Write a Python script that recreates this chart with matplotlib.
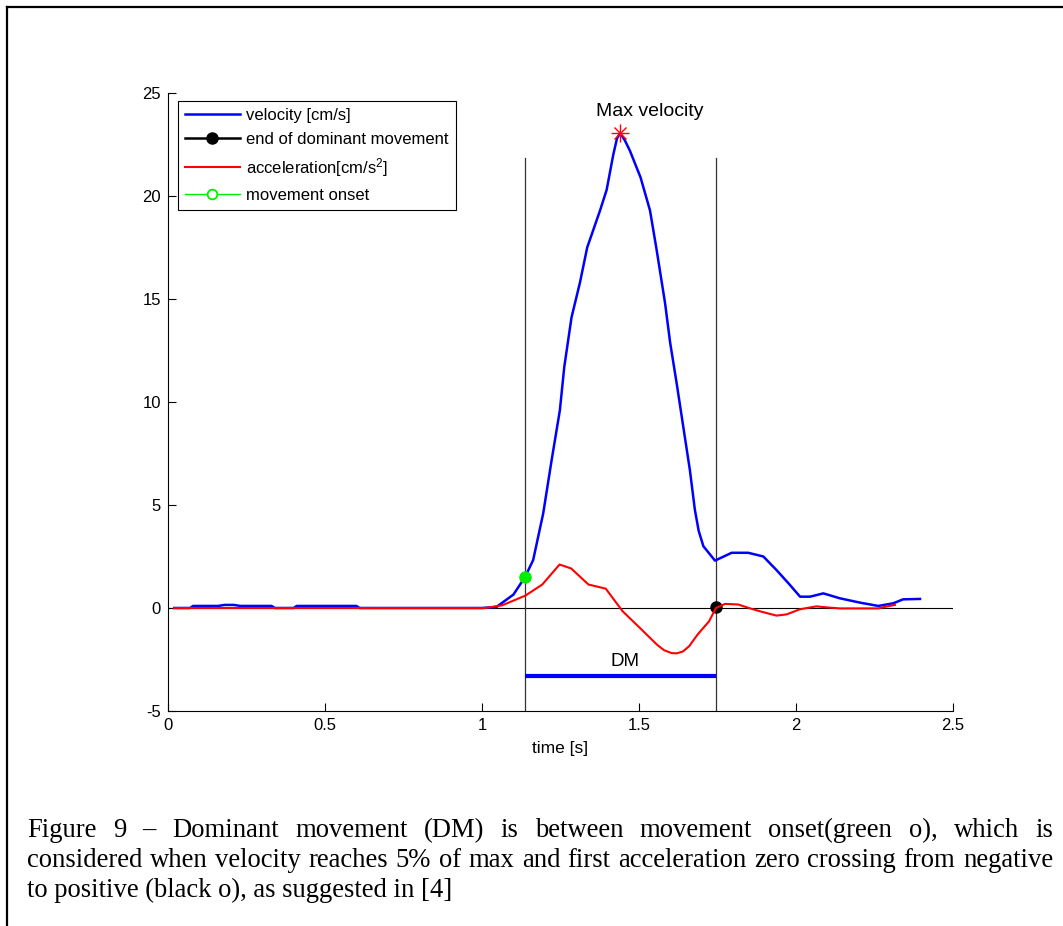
import numpy as np
import matplotlib
matplotlib.use("Agg")
import matplotlib.pyplot as plt
from matplotlib.lines import Line2D

plt.rcParams['font.family'] = ['Liberation Sans', 'DejaVu Sans']
plt.rcParams['mathtext.fontset'] = 'custom'
plt.rcParams['mathtext.rm'] = 'Liberation Sans'
plt.rcParams['mathtext.it'] = 'Liberation Sans:italic'
plt.rcParams['axes.unicode_minus'] = False

# ---------------- DATA ----------------
# velocity [cm/s]
t_vel = [0.02, 0.07, 0.08, 0.16, 0.18, 0.21, 0.23, 0.33, 0.34, 0.40,
         0.41, 0.60, 0.61, 1.00, 1.046, 1.10, 1.137, 1.163, 1.195, 1.222,
         1.248, 1.262, 1.285, 1.312, 1.335, 1.376, 1.397, 1.418, 1.43, 1.44,
         1.455, 1.471, 1.505, 1.535, 1.556, 1.583, 1.599, 1.62, 1.641, 1.662,
         1.678, 1.69, 1.705, 1.742, 1.795, 1.848, 1.896, 1.938, 1.976, 2.013,
         2.045, 2.087, 2.14, 2.204, 2.262, 2.31, 2.341, 2.395]
vel = [0, 0, 0.1, 0.1, 0.15, 0.15, 0.1, 0.1, 0, 0,
       0.1, 0.1, 0, 0, 0.05, 0.65, 1.5, 2.33, 4.6, 7.2,
       9.6, 11.7, 14.1, 15.8, 17.5, 19.3, 20.3, 22.0, 22.8, 23.05,
       22.7, 22.2, 20.9, 19.3, 17.4, 14.8, 12.9, 10.9, 8.8, 6.7,
       4.76, 3.75, 3.0, 2.3, 2.68, 2.68, 2.5, 1.84, 1.2, 0.55,
       0.55, 0.71, 0.47, 0.26, 0.1, 0.23, 0.42, 0.44]

# acceleration [cm/s^2]
t_acc = [0.02, 1.01, 1.064, 1.138, 1.192, 1.247, 1.284, 1.339, 1.394, 1.448,
         1.503, 1.558, 1.58, 1.604, 1.62, 1.64, 1.66, 1.686, 1.70, 1.723,
         1.745, 1.774, 1.816, 1.854, 1.89, 1.938, 1.97, 2.013, 2.065, 2.097,
         2.14, 2.262, 2.288, 2.315]
acc = [0, 0, 0.13, 0.6, 1.14, 2.11, 1.92, 1.14, 0.94, -0.16,
       -0.97, -1.79, -2.05, -2.19, -2.2, -2.11, -1.85, -1.3, -1.05, -0.65,
       0.0, 0.2, 0.17, -0.02, -0.18, -0.37, -0.31, -0.06, 0.08, 0.03,
       -0.02, -0.02, 0.07, 0.15]

onset_t, onset_v = 1.137, 1.5      # movement onset (green o)
end_t, end_a = 1.745, 0.05         # end of dominant movement (black o)
peak_t, peak_v = 1.44, 23.05       # max velocity
dm_y = -3.3
guide_top = 21.85

x_ticks = [0, 0.5, 1, 1.5, 2, 2.5]
x_tick_labels = ['0', '0.5', '1', '1.5', '2', '2.5']
y_ticks = [-5, 0, 5, 10, 15, 20, 25]

caption = ["Figure 9 – Dominant movement (DM) is between movement onset(green o), which is",
           "considered when velocity reaches 5% of max and first acceleration zero crossing from negative",
           "to positive (black o), as suggested in [4]"]

# ---------------- FIGURE ----------------
W, H = 1063, 926
fig = plt.figure(figsize=(W / 100, H / 100), dpi=100)
ax = fig.add_axes([168 / W, 1 - 711 / H, (953 - 168) / W, (711 - 93) / H])

blue = '#0000ff'
red = '#ff0000'
green = '#00ee00'

ax.axhline(0, color='k', lw=0.8, zorder=1)
for xv in (onset_t, end_t):
    ax.plot([xv, xv], [-5, guide_top], color='#333333', lw=0.9, zorder=1)

ax.plot(t_vel, vel, color=blue, lw=1.8, zorder=3)
ax.plot([end_t], [end_a], 'o', color='k', ms=8, zorder=4)
ax.plot(t_acc, acc, color=red, lw=1.5, zorder=5)
ax.plot([onset_t], [onset_v], 'o', color=green, ms=8, zorder=6)

# asterisk at the peak
ax.plot([peak_t], [peak_v], '+', color=red, ms=13, mew=1.0, zorder=6)
ax.plot([peak_t], [peak_v], 'x', color=red, ms=9, mew=1.0, zorder=6)
ax.text(1.535, 24.1, 'Max velocity', ha='center', va='center', fontsize=14)

ax.plot([onset_t, end_t], [dm_y, dm_y], color=blue, lw=3, solid_capstyle='butt', zorder=3)
ax.text(1.455, -2.6, 'DM', ha='center', va='center', fontsize=13.5)

ax.set_xlim(0, 2.5)
ax.set_ylim(-5, 25)
ax.set_xticks(x_ticks)
ax.set_xticklabels(x_tick_labels)
ax.set_yticks(y_ticks)
for s in ('top', 'right'):
    ax.spines[s].set_visible(False)
for s in ('left', 'bottom'):
    ax.spines[s].set_linewidth(0.8)
ax.tick_params(direction='in', length=6, width=0.8, labelsize=12, pad=5)
ax.set_xlabel('time [s]', fontsize=12.5, labelpad=6)

handles = [
    Line2D([], [], color=blue, lw=1.8),
    Line2D([], [], color='k', lw=1.8, marker='o', ms=8),
    Line2D([], [], color=red, lw=1.5),
    Line2D([], [], color=green, lw=1.0, marker='o', ms=7, mfc='white', mec=green, mew=1.3),
]
labels = ['velocity [cm/s]', 'end of dominant movement',
          'acceleration[cm/s$^2$]', 'movement onset']
leg = ax.legend(handles, labels, loc='upper left', bbox_to_anchor=(10 / 785, 1 - 8 / 618),
                borderaxespad=0, fontsize=12, fancybox=False, framealpha=1,
                edgecolor='k', borderpad=0.4, labelspacing=0.55,
                handlelength=3.3, handletextpad=0.4, numpoints=1)
leg.get_frame().set_linewidth(0.8)

# page frame (left and top edges)
fig.add_artist(Line2D([7 / W, 7 / W], [0, 1 - 7 / H], color='k', lw=1.6, transform=fig.transFigure))
fig.add_artist(Line2D([7 / W, 1], [1 - 7 / H, 1 - 7 / H], color='k', lw=1.6, transform=fig.transFigure))

# ---------------- CAPTION (justified) ----------------
renderer = fig.canvas.get_renderer()
serif = ['Liberation Serif', 'DejaVu Serif']


def text_width(s, size):
    t = fig.text(0, 0, s, fontsize=size, family=serif)
    w = t.get_window_extent(renderer).width
    t.remove()
    return w


cap_size = 10 * 425 / text_width(caption[2], 10)
x_left, x_right = 27, 1053
baselines = [837, 867, 897]

for i, line in enumerate(caption):
    y = 1 - baselines[i] / H
    if i == len(caption) - 1:
        fig.text(x_left / W, y, line, fontsize=cap_size, family=serif, va='baseline')
        continue
    words = line.split(' ')
    widths = [text_width(w, cap_size) for w in words]
    gap = (x_right - x_left - sum(widths)) / (len(words) - 1)
    x = x_left
    for w, wd in zip(words, widths):
        fig.text(x / W, y, w, fontsize=cap_size, family=serif, va='baseline')
        x += wd + gap

fig.savefig('out.png', dpi=100)
